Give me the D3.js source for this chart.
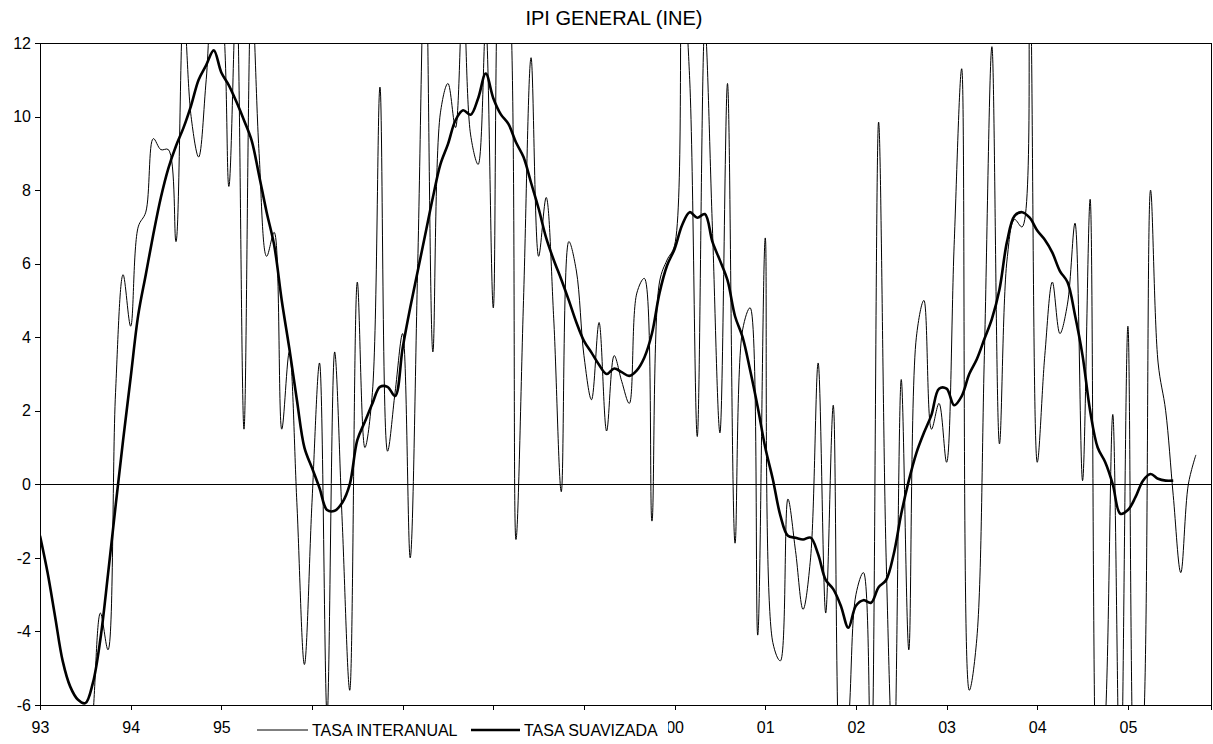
<!DOCTYPE html>
<html><head><meta charset="utf-8">
<script src="https://cdn.jsdelivr.net/npm/d3@7"></script>
<style>
html,body{margin:0;padding:0;background:#fff;}
text{font-family:"Liberation Sans",Arial,sans-serif;fill:#000;}
</style></head>
<body><svg id="c" width="1213" height="744"></svg>
<script>
const title = "IPI GENERAL (INE)";
const yearLabels = ["93","94","95","96","97","98","99","00","01","02","03","04","05"];
const seriesNames = ["TASA INTERANUAL","TASA SUAVIZADA"];
// monthly values, index 0 = Jan 1993
const tasaInteranual = [
 -8,-9,-10,-10.5,-10,-9.5,-8.5,-6.3,-3.5,-4.5,
 2.5,5.7,4.3,7.0,7.4,9.4,9.1,9.1,6.6,13,
 10,8.9,11,13.5,13,8.1,13.5,1.5,13.5,9,
 6.2,6.85,1.5,3.6,-0.5,-4.9,-0.5,3.3,-6.3,3.6,
 -1,-5.6,5.5,1.0,2.5,10.8,0.9,2.5,4.1,-2.0,
 6,15,3.6,10.1,10.9,9.7,13.5,9.5,8.7,12.5,
 4.8,15,14,-1.5,5,11.6,6.2,7.8,4.5,-0.2,
 6.6,5.8,3.5,2.3,4.4,1.45,3.5,2.8,2.2,5.2,
 5.6,-1.0,5.5,6.1,6.5,14,11,1.3,12.5,7,
 1.4,10.9,-1.6,4.2,4.8,-4.1,6.7,-4.3,-4.8,-0.4,
 -1.8,-3.4,-2.0,3.3,-3.5,2.15,-8,-6.5,-3.0,-2.4,
 -8,9.85,-2,-8,2.85,-4.5,4.0,5.0,1.5,2.2,
 0.6,6.5,11.3,-5.6,-4.2,3.5,11.9,1.1,6.1,7.2,
 7.0,14,0.6,3.5,5.5,4.1,4.9,7.1,0.1,7.75,
 -9,-6.5,1.9,-9,4.3,-9,-7,8.0,3.3,2.0,
 -0.3,-2.4,0.0,0.8
];
const tasaSuavizada = [
 -1.4,-2.4,-3.6,-4.8,-5.5,-5.85,-5.95,-5.4,-4.2,-2.45,
 -0.6,1.2,2.9,4.6,5.7,6.8,7.8,8.6,9.2,9.7,
 10.3,11.0,11.4,11.8,11.2,10.85,10.4,9.9,9.36,8.4,
 7.4,6.5,5.0,3.7,2.3,1.0,0.45,-0.1,-0.7,-0.72,
 -0.5,0.0,1.2,1.7,2.2,2.65,2.65,2.4,3.7,4.8,
 5.8,6.8,7.8,8.7,9.25,9.9,10.17,10.05,10.5,11.17,
 10.5,10.06,9.8,9.3,8.9,8.2,7.5,6.7,6.1,5.57,
 5.0,4.4,3.9,3.58,3.25,3.0,3.15,3.05,2.95,3.1,
 3.45,4.1,5.2,5.95,6.4,7.05,7.4,7.25,7.35,6.6,
 6.09,5.55,4.57,4.0,3.1,2.1,1.0,0.14,-0.85,-1.4,
 -1.45,-1.5,-1.45,-1.9,-2.6,-2.85,-3.3,-3.9,-3.3,-3.15,
 -3.22,-2.8,-2.6,-1.9,-0.8,0.1,0.85,1.4,1.89,2.6,
 2.6,2.15,2.4,3.0,3.4,3.95,4.5,5.3,6.6,7.3,
 7.4,7.25,6.9,6.65,6.3,5.8,5.5,4.6,3.5,2.0,
 1.0,0.6,0.0,-0.8,-0.7,-0.35,0.1,0.28,0.15,0.1,
 0.1
];
const yTicks = [-6,-4,-2,0,2,4,6,8,10,12];

const svg = d3.select("#c");
const L = 40, R = 1211, T = 43, B = 705;
const x = d3.scaleLinear().domain([0,155]).range([L,R]);
const y = d3.scaleLinear().domain([-6,12]).range([B,T]);

svg.append("defs").append("clipPath").attr("id","clip")
  .append("rect").attr("x",L).attr("y",T).attr("width",R-L).attr("height",B-T);

svg.append("text").attr("x",614).attr("y",25).attr("text-anchor","middle")
  .style("font-size","20px").text(title);

// zero line
svg.append("line").attr("x1",L).attr("x2",R).attr("y1",y(0)).attr("y2",y(0))
  .attr("stroke","#000").attr("stroke-width",1).attr("shape-rendering","crispEdges");

const line = d3.line().x((d,i)=>x(i)).y(d=>y(d)).curve(d3.curveCatmullRom.alpha(0.5));
const g = svg.append("g").attr("clip-path","url(#clip)");
g.append("path").datum(tasaInteranual).attr("d",line)
  .attr("fill","none").attr("stroke","#000").attr("stroke-width",1);
g.append("path").datum(tasaSuavizada).attr("d",line)
  .attr("fill","none").attr("stroke","#000").attr("stroke-width",2.6);

// frame
svg.append("rect").attr("x",L).attr("y",T).attr("width",R-L).attr("height",B-T)
  .attr("fill","none").attr("stroke","#000").attr("stroke-width",1).attr("shape-rendering","crispEdges");

const ya = svg.append("g").attr("transform",`translate(${L},0)`)
  .call(d3.axisLeft(y).tickValues(yTicks).tickSize(5).tickPadding(4).tickFormat(d=>String(d)));
const xa = svg.append("g").attr("transform",`translate(0,${B})`)
  .call(d3.axisBottom(x).tickValues(d3.range(0,145,12)).tickSize(5).tickPadding(12)
    .tickFormat(d=>yearLabels[d/12]));
[ya,xa].forEach(a=>{
  a.select(".domain").attr("stroke","#000").attr("shape-rendering","crispEdges");
  a.selectAll(".tick line").attr("stroke","#000").attr("shape-rendering","crispEdges");
  a.selectAll("text").style("font-size","16px").style("font-family","'Liberation Sans',Arial,sans-serif").attr("fill","#000");
});

// legend (white box hides the year labels lying underneath it, as in the original)
const legL = 252, legR = 668;
xa.selectAll(".tick").filter(d => x(d) + 8 > legL && x(d) + 8 < legR).select("text").remove();
const lg = svg.append("g");
lg.append("rect").attr("x",legL).attr("y",712).attr("width",legR-legL).attr("height",32).attr("fill","#fff");
lg.append("line").attr("x1",257).attr("x2",308).attr("y1",730).attr("y2",730).attr("stroke","#000").attr("stroke-width",1);
lg.append("text").attr("x",312).attr("y",736).style("font-size","16px").text(seriesNames[0]);
lg.append("line").attr("x1",471).attr("x2",520).attr("y1",730).attr("y2",730).attr("stroke","#000").attr("stroke-width",2.6);
lg.append("text").attr("x",524).attr("y",736).style("font-size","16px").text(seriesNames[1]);
</script></body></html>
